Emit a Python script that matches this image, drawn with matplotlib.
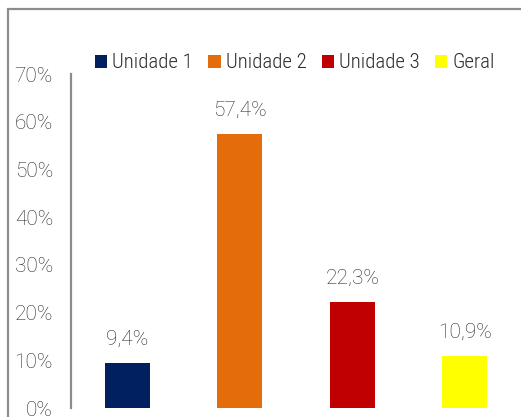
import matplotlib
matplotlib.use("Agg")
import matplotlib.pyplot as plt
from matplotlib.patches import Rectangle

# data
categories = ["Unidade 1", "Unidade 2", "Unidade 3", "Geral"]
values = [0.094, 0.574, 0.223, 0.109]
labels = ["9,4%", "57,4%", "22,3%", "10,9%"]
colors = ["#002060", "#E46C0A", "#C00000", "#FFFF00"]
yticks = [0, 0.1, 0.2, 0.3, 0.4, 0.5, 0.6, 0.7]
ytick_labels = ["0%", "10%", "20%", "30%", "40%", "50%", "60%", "70%"]

plt.rcParams['font.family'] = ['Roboto', 'DejaVu Sans']
plt.rcParams['font.weight'] = 'light'
text_color = "#2b2b2b"
cond = ['Roboto Condensed', 'Liberation Sans Narrow', 'DejaVu Sans']

fig = plt.figure(figsize=(5.21, 4.17), dpi=100)
ax = fig.add_axes([71 / 521, 9 / 417, 450 / 521, 334 / 417])

x = range(len(categories))
bars = ax.bar(x, values, width=0.4, color=colors, label=categories)

for i, b in enumerate(bars):
    ax.annotate(labels[i], (b.get_x() + b.get_width() / 2, values[i]),
                xytext=(0, 10), textcoords="offset points",
                ha="center", va="bottom", fontsize=15, color=text_color)

ax.set_xlim(-0.5, 3.5)
ax.set_ylim(0, 0.7)
ax.set_xticks([])
ax.set_yticks(yticks)
ax.set_yticklabels(ytick_labels, fontsize=15, color=text_color)
ax.tick_params(axis="y", length=0, pad=13)

for s in ["top", "right", "bottom"]:
    ax.spines[s].set_visible(False)
ax.spines["left"].set_color("#8c8c8c")
ax.spines["left"].set_linewidth(1.6)

# legend
leg = fig.legend(handles=bars, labels=categories, loc="center left",
                 bbox_to_anchor=(95 / 521, 1 - 63 / 417), ncol=4, frameon=False,
                 prop={'family': cond, 'weight': 'light', 'size': 15},
                 handlelength=0.58, handleheight=0.58,
                 handletextpad=0.24, columnspacing=0.75, borderaxespad=0,
                 borderpad=0)
for t in leg.get_texts():
    t.set_color(text_color)

# outer chart border (cropped)
fig.patches.append(Rectangle((8 / 521, -0.5), 2, 0.5 + (417 - 8.5) / 417,
                             transform=fig.transFigure, fill=False,
                             edgecolor="#8c8c8c", linewidth=1.6))

fig.savefig("out.png", dpi=100)
